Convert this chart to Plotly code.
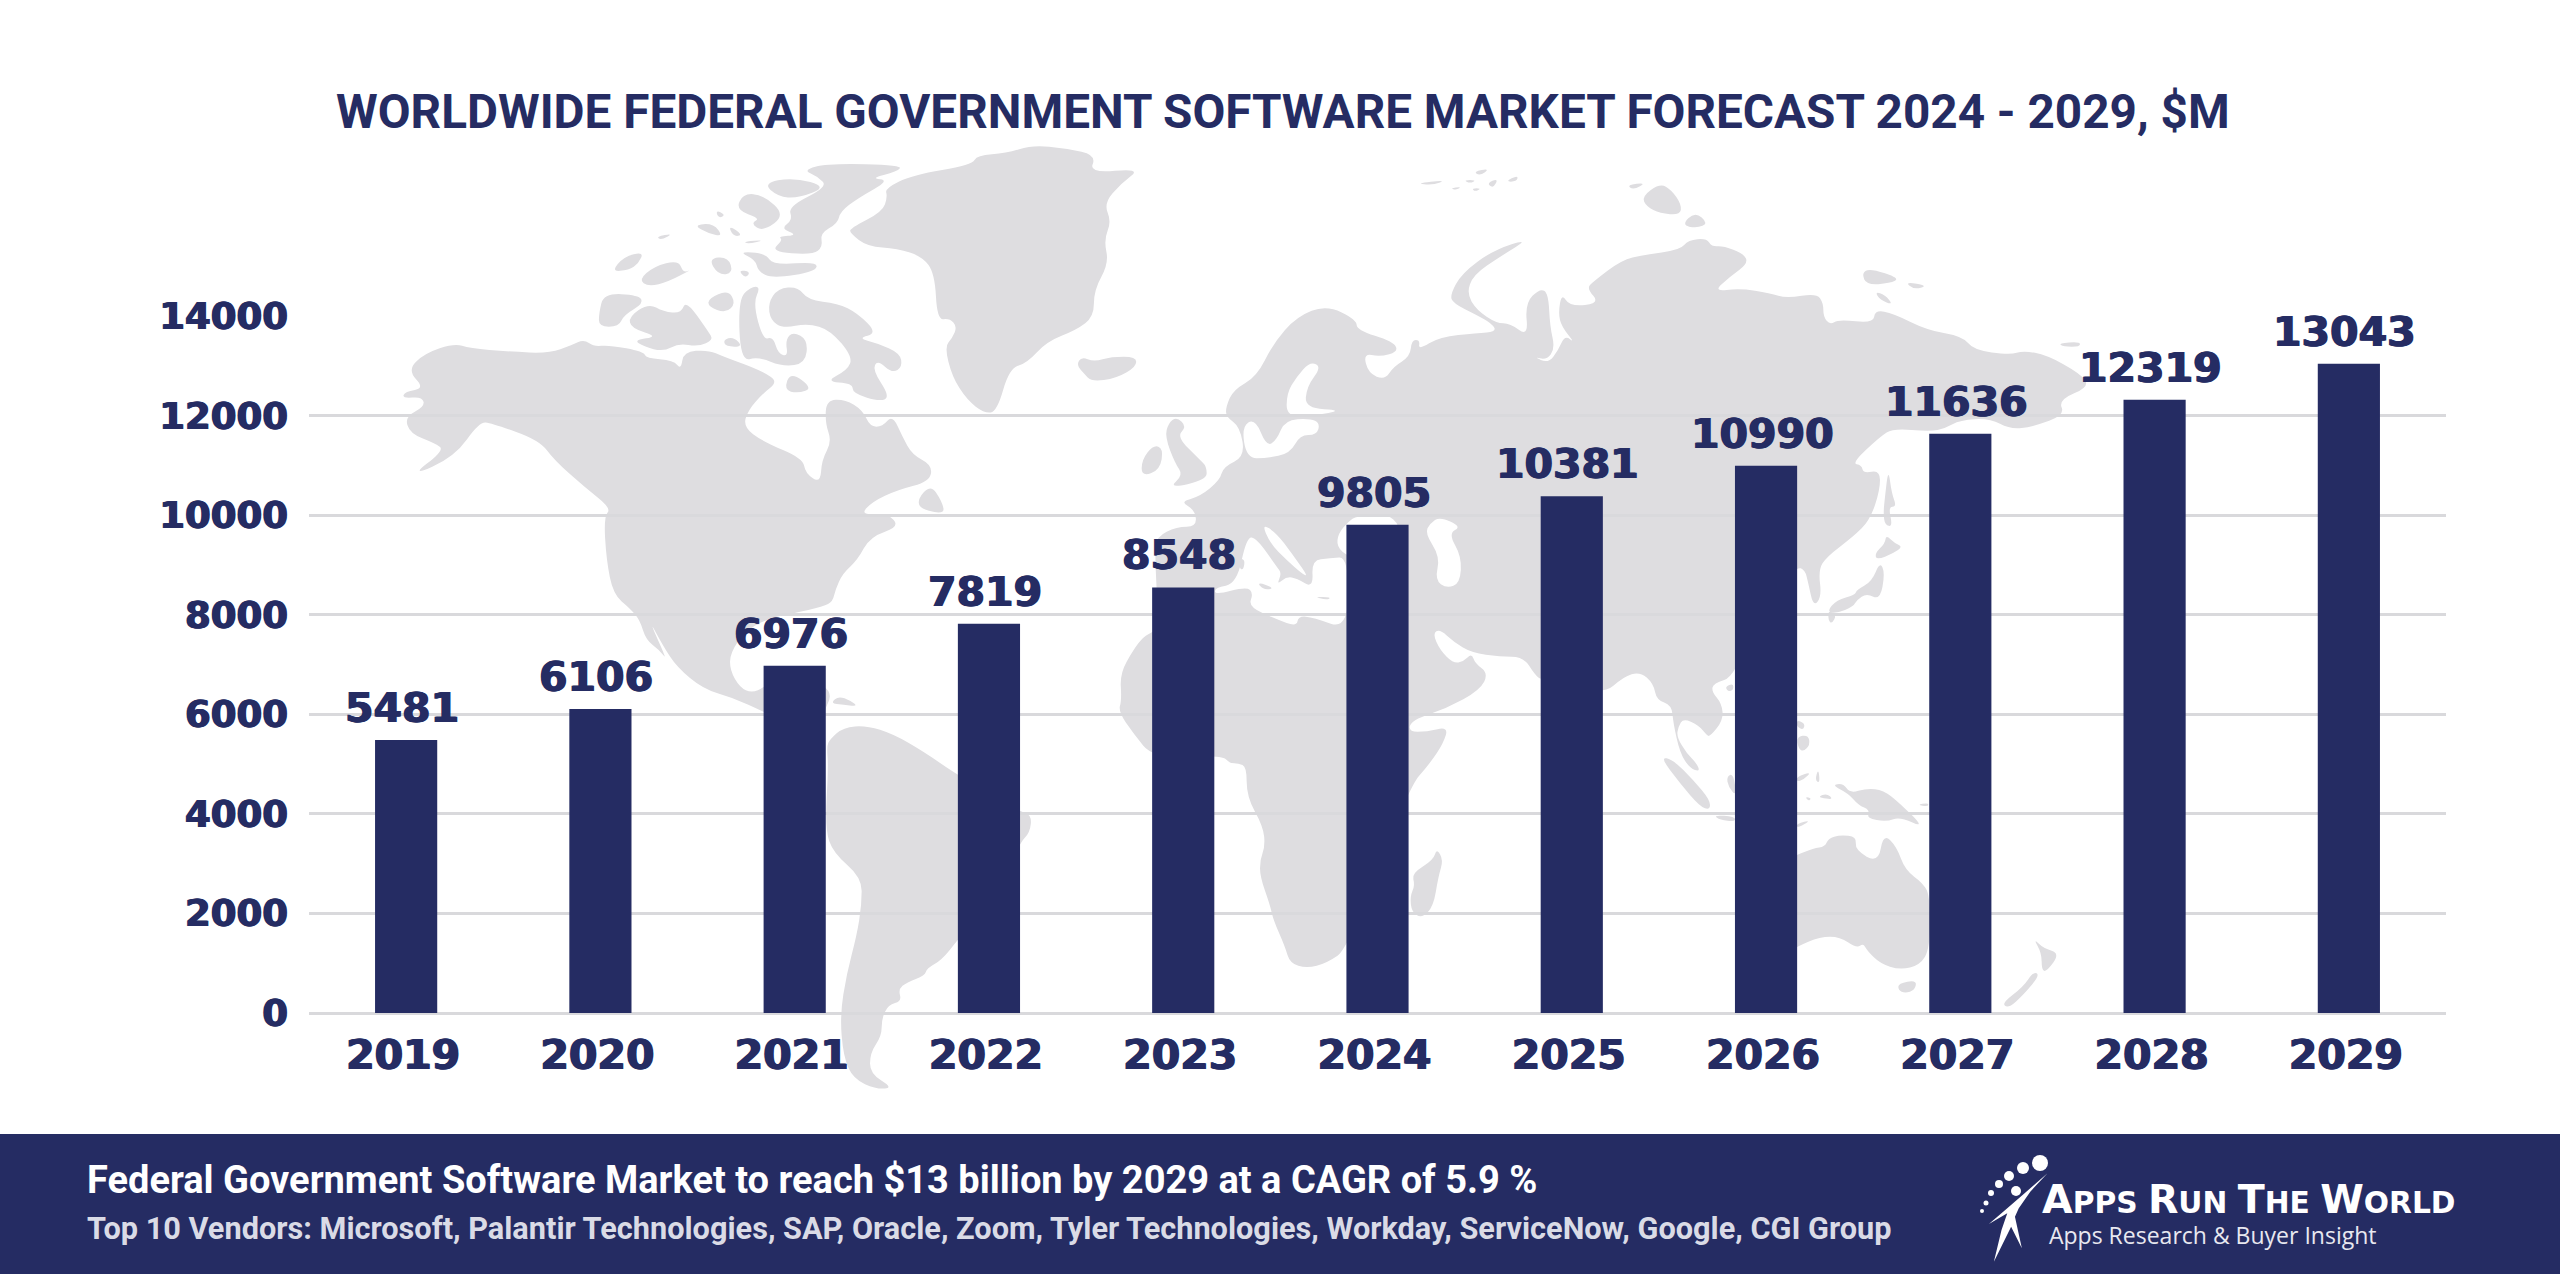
import plotly.graph_objects as go

# chart data
years = ['2019', '2020', '2021', '2022', '2023', '2024', '2025', '2026', '2027', '2028', '2029']
market_size = [5481, 6106, 6976, 7819, 8548, 9805, 10381, 10990, 11636, 12319, 13043]
y_ticks = [0, 2000, 4000, 6000, 8000, 10000, 12000, 14000]

title_text = 'WORLDWIDE FEDERAL GOVERNMENT SOFTWARE MARKET FORECAST 2024 - 2029, $M'
banner_line_1 = 'Federal Government Software Market to reach $13 billion by 2029 at a CAGR of 5.9 %'
banner_line_2 = ('Top 10 Vendors: Microsoft, Palantir Technologies, SAP, Oracle, Zoom, '
                 'Tyler Technologies, Workday, ServiceNow, Google, CGI Group')

NAVY = '#252C63'
LAND = '#DEDDE0'
GRID = '#D9D9DC'
HEAVY = f'0.8px 0 0 {NAVY}, -0.8px 0 0 {NAVY}'  # the original digits are a heavier cut than DejaVu Bold

WIDTH, HEIGHT = 2560, 1274
PLOT_L, PLOT_R, PLOT_T, PLOT_B = 309, 2446, 316, 1013


def crop(origin, pts):
    x0, y0, sx, sy = origin
    return [(x0 + x / sx, y0 + y / sy) for x, y in pts]


NA = (380, 140, 2.01, 3)
SA = (560, 560, 3, 2.9)
EU = (1100, 160, 3, 3)
AF = (1100, 620, 3, 3)
AS = (1560, 160, 3, 3)
OC = (1600, 620, 3, 3)
LOGO = (1900, 1120, 2.61, 3)

north_america = (
    crop(NA, [(55, 690), (90, 640), (150, 610), (180, 625), (260, 635), (340, 640), (385, 615), (410, 598),
              (430, 620), (460, 615), (530, 635), (535, 655), (590, 660), (605, 690), (610, 635), (660, 630),
              (690, 650), (720, 665), (770, 695), (800, 725), (770, 760), (740, 810), (730, 860), (770, 905),
              (850, 955), (855, 1000), (885, 1030), (888, 960), (908, 905), (895, 850), (897, 780), (935, 778),
              (970, 810), (985, 860), (1010, 860), (1030, 825), (1050, 890), (1070, 945), (1110, 975),
              (1105, 1025), (1040, 1050), (990, 1085), (965, 1125), (1020, 1120), (1045, 1160), (985, 1190),
              (960, 1260), (930, 1300), (915, 1350), (910, 1385)])
    + crop(SA, [(790, 135), (700, 155), (640, 165), (560, 200), (510, 270), (510, 320), (540, 370), (575, 385),
                (612, 370), (700, 300), (795, 365), (815, 395), (790, 440), (795, 530), (700, 480), (610, 440),
                (520, 400), (430, 375), (350, 310), (310, 250), (265, 170), (322, 292), (300, 262), (258, 232),
                (240, 175), (210, 140), (160, 100)])
    + crop(NA, [(455, 1260), (450, 1130), (465, 1105), (410, 1040), (350, 960), (320, 900), (225, 850), (200, 845),
                (150, 950), (60, 1010), (130, 930), (110, 910), (60, 880), (50, 830), (90, 800), (85, 770),
                (45, 775), (50, 755), (90, 745)])
)
south_america = crop(SA, [(810, 520), (850, 485), (920, 480), (1000, 505), (1090, 555), (1195, 625), (1380, 730),
                          (1415, 740), (1410, 790), (1380, 820), (1300, 980), (1195, 1100), (1145, 1160),
                          (1100, 1185), (1095, 1205), (1040, 1225), (1015, 1245), (1025, 1280), (985, 1290),
                          (965, 1330), (965, 1380), (930, 1430), (930, 1490), (1000, 1530), (950, 1535),
                          (880, 1505), (850, 1440), (840, 1320), (860, 1200), (890, 1090), (905, 1000), (905, 920),
                          (820, 850), (795, 780), (805, 600), (800, 540)])
greenland = crop(NA, [(945, 265), (1010, 215), (1020, 170), (1015, 145), (1070, 105), (1190, 75), (1200, 45),
                      (1260, 40), (1310, 15), (1380, 25), (1440, 45), (1425, 100), (1530, 85), (1490, 130),
                      (1455, 190), (1470, 245), (1455, 300), (1465, 370), (1435, 450), (1435, 530), (1400, 570),
                      (1340, 605), (1300, 670), (1265, 685), (1240, 815), (1215, 820), (1180, 780), (1150, 710),
                      (1135, 620), (1150, 595), (1160, 560), (1145, 535), (1120, 540), (1115, 400), (1090, 350),
                      (1040, 325), (980, 320), (945, 280)])
eurasia_africa = (
    crop(EU, [(240, 1025), (300, 1010), (360, 960), (370, 920), (435, 890), (420, 800), (378, 770), (378, 740),
              (400, 690), (470, 650), (520, 550), (590, 470), (680, 435), (770, 480), (770, 510), (880, 545),
              (895, 575), (840, 590), (790, 580), (805, 640), (855, 660), (880, 620), (930, 590), (935, 540),
              (960, 540), (955, 570), (1020, 530), (1130, 520), (1190, 515), (1175, 490), (1130, 465), (1060, 430),
              (1050, 405), (1085, 340), (1180, 270), (1290, 235), (1200, 290), (1120, 345), (1100, 400), (1130, 450),
              (1190, 490), (1230, 490), (1285, 530), (1275, 430), (1320, 385), (1345, 400), (1350, 500), (1365, 565),
              (1340, 600), (1300, 590), (1345, 610), (1375, 570), (1395, 525), (1425, 550), (1385, 500), (1375, 460),
              (1385, 400), (1410, 440), (1500, 430), (1460, 385), (1480, 365)])
    + crop(AS, [(185, 300), (250, 285), (360, 270), (385, 240), (440, 235), (455, 260), (490, 258), (550, 280),
                (565, 310), (510, 350), (460, 395), (540, 385), (630, 400), (680, 415), (770, 400), (790, 430),
                (790, 470), (810, 495), (835, 478), (940, 490), (945, 450), (1000, 460), (1100, 510), (1210, 530),
                (1240, 570), (1350, 585), (1390, 572), (1460, 585), (1560, 640), (1590, 680), (1495, 720),
                (1515, 765), (1420, 800), (1350, 808), (1290, 775), (1200, 780), (1155, 805), (1110, 815),
                (1000, 805), (960, 830), (875, 910), (905, 915), (910, 940), (960, 930), (960, 990), (930, 1080),
                (880, 1130), (800, 1190), (775, 1230), (785, 1310), (760, 1340), (745, 1270), (735, 1230),
                (710, 1220), (620, 1300)])
    + crop(OC, [(405, 170), (340, 190), (335, 215), (365, 250), (370, 300), (330, 350), (320, 345), (295, 315),
                (250, 295), (235, 320), (230, 350), (260, 400), (290, 430), (300, 455), (270, 445), (240, 400),
                (220, 310), (215, 255), (170, 240), (160, 190), (120, 155), (70, 170), (10, 225)])
    + crop(AF, [(1325, 180), (1305, 165), (1270, 110), (1200, 110), (1115, 98), (1060, 65), (1020, 28), (998, 40),
                (1020, 90), (1060, 130), (1090, 125), (1115, 100), (1125, 130), (1165, 160), (1140, 210),
                (1040, 265), (935, 300), (925, 335), (980, 335), (1045, 320), (1030, 370), (990, 430), (925, 505),
                (745, 985), (680, 1030), (620, 1045), (570, 1030), (555, 980), (520, 900), (510, 855), (480, 770),
                (480, 720), (495, 680), (490, 620), (440, 530), (440, 440), (415, 430), (390, 430), (365, 405),
                (160, 415), (100, 340), (55, 275), (65, 240), (60, 160), (100, 90), (130, 50), (160, 35)])
    + crop(EU, [(175, 1400), (170, 1290), (165, 1180), (170, 1130), (230, 1100), (290, 1100), (285, 1050)])
)
australia = crop(OC, [(560, 720), (590, 705), (640, 685), (675, 680), (685, 655), (720, 645), (770, 650), (765, 690),
                      (835, 730), (850, 640), (890, 680), (915, 750), (970, 790), (990, 830), (990, 985), (960, 1035),
                      (900, 1050), (840, 1030), (800, 990), (790, 970), (770, 985), (720, 950), (660, 950),
                      (590, 980), (560, 1000)])

islands = [
    # Canadian arctic
    crop(NA, [(780, 490), (800, 445), (840, 440), (860, 480), (920, 490), (960, 520), (1000, 580), (960, 595),
              (1000, 610), (1045, 640), (1050, 680), (1030, 700), (1000, 660), (990, 690), (1025, 770), (1005, 785),
              (950, 760), (950, 730), (895, 725), (940, 690), (950, 650), (905, 570), (860, 550), (810, 565),
              (785, 540)]),
    crop(NA, [(715, 210), (730, 160), (770, 165), (815, 225), (770, 275), (745, 250), (765, 235)]),
    crop(NA, [(770, 130), (830, 112), (900, 140), (840, 175), (800, 170)]),
    crop(NA, [(850, 90), (900, 70), (1050, 75), (1040, 95), (985, 115), (1025, 120), (960, 175), (925, 215),
              (920, 250), (885, 280), (890, 320), (870, 345), (785, 335), (810, 300), (800, 290), (840, 285),
              (805, 265), (830, 240), (820, 200), (900, 140), (880, 110)]),
    crop(NA, [(720, 335), (775, 340), (790, 375), (880, 365), (875, 395), (790, 415), (760, 395), (755, 360)]),
    crop(NA, [(630, 255), (670, 250), (690, 290), (660, 280)]),
    crop(NA, [(675, 210), (695, 225), (680, 235)]),
    crop(NA, [(700, 255), (730, 285), (710, 290)]),
    crop(NA, [(730, 305), (775, 300), (740, 312)]),
    crop(NA, [(465, 395), (490, 350), (530, 335), (520, 370), (500, 390)]),
    crop(NA, [(520, 420), (550, 380), (600, 360), (610, 400), (630, 385), (580, 425), (540, 440)]),
    crop(NA, [(660, 355), (700, 350), (710, 400), (680, 405)]),
    crop(NA, [(720, 390), (745, 395), (735, 415)]),
    crop(NA, [(555, 290), (590, 280), (565, 300)]),
    crop(NA, [(450, 460), (520, 465), (530, 490), (490, 525), (480, 560), (440, 560), (440, 520)]),
    crop(NA, [(500, 530), (540, 490), (570, 515), (605, 520), (615, 480), (660, 575), (670, 600), (640, 620),
              (600, 610), (570, 635), (530, 620), (510, 600), (560, 590), (505, 565)]),
    crop(NA, [(720, 480), (745, 440), (765, 440), (750, 490), (770, 600), (790, 590), (800, 640), (820, 650),
              (815, 600), (830, 575), (860, 600), (855, 670), (810, 680), (760, 650), (725, 665)]),
    crop(NA, [(660, 475), (700, 450), (715, 490), (695, 520), (660, 500)]),
    crop(NA, [(825, 695), (870, 745), (840, 760), (812, 750)]),
    crop(NA, [(690, 600), (710, 590), (730, 620), (695, 620)]),
    # Newfoundland, Iceland, Caribbean
    crop(NA, [(1105, 1030), (1072, 1100), (1135, 1125), (1130, 1085)]),
    crop(NA, [(1400, 675), (1410, 650), (1435, 665), (1470, 650), (1520, 650), (1520, 680), (1480, 715), (1430, 725),
              (1415, 700)]),
    crop(SA, [(810, 415), (840, 392), (900, 425), (850, 420)]),
    # Britain, Ireland
    crop(EU, [(205, 790), (230, 770), (260, 800), (230, 830), (300, 900), (320, 920), (320, 960), (205, 985),
              (250, 945), (225, 910), (195, 830)]),
    crop(EU, [(125, 900), (160, 855), (190, 865), (180, 930), (125, 950)]),
    # Svalbard and Franz Josef
    crop(EU, [(945, 70), (1040, 60), (1000, 75)]),
    crop(EU, [(1050, 85), (1085, 80), (1070, 90)]),
    crop(EU, [(1120, 35), (1170, 25), (1140, 48)]),
    crop(EU, [(1090, 60), (1130, 60), (1110, 70)]),
    crop(EU, [(1160, 70), (1195, 55), (1180, 85)]),
    crop(EU, [(1215, 65), (1255, 45), (1250, 65)]),
    crop(EU, [(1115, 85), (1145, 85), (1125, 95)]),
    # Siberian islands
    crop(AS, [(245, 110), (300, 70), (335, 90), (365, 135), (360, 165), (300, 160), (260, 140)]),
    crop(AS, [(200, 75), (260, 68), (220, 90)]),
    crop(AS, [(365, 195), (405, 155), (445, 190), (410, 205)]),
    crop(AS, [(905, 340), (930, 325), (1020, 355), (990, 370), (920, 375)]),
    crop(AS, [(1035, 365), (1105, 378), (1060, 388)]),
    crop(AS, [(945, 395), (975, 405), (1000, 435), (960, 420)]),
    crop(AS, [(1495, 550), (1560, 545), (1560, 560), (1510, 560)]),
    # Japan, Sakhalin
    crop(AS, [(985, 925), (995, 1000), (1010, 1040), (985, 1040), (998, 1100), (975, 1095), (970, 1060), (975, 1010)]),
    crop(AS, [(978, 1125), (1005, 1150), (1028, 1160), (1000, 1180), (950, 1200), (945, 1180), (975, 1150)]),
    crop(AS, [(960, 1205), (975, 1240), (960, 1320), (920, 1300), (890, 1320), (880, 1340), (830, 1360), (800, 1355),
              (830, 1320), (885, 1305), (890, 1290), (935, 1265)]),
    crop(AS, [(805, 1350), (830, 1365), (815, 1392), (805, 1380)]),
    # South east Asia and Oceania
    crop(OC, [(375, 200), (400, 190), (400, 210), (385, 215)]),
    crop(OC, [(180, 410), (220, 420), (280, 480), (330, 540), (330, 570), (300, 560), (240, 490)]),
    crop(OC, [(340, 585), (405, 590), (405, 605), (360, 600)]),
    crop(OC, [(380, 470), (400, 460), (410, 530), (385, 500)]),
    crop(OC, [(590, 300), (615, 310), (610, 330), (590, 320)]),
    crop(OC, [(590, 350), (625, 345), (630, 375), (610, 395), (595, 385)]),
    crop(OC, [(590, 470), (635, 455), (610, 480), (590, 485)]),
    crop(OC, [(655, 445), (660, 490), (645, 480)]),
    crop(OC, [(615, 530), (635, 535), (625, 543)]),
    crop(OC, [(655, 530), (680, 520), (700, 538), (670, 535)]),
    crop(OC, [(590, 625), (635, 600), (590, 610)]),
    crop(OC, [(695, 495), (730, 490), (750, 520), (800, 505), (850, 510), (900, 550), (975, 625), (900, 590),
              (860, 605), (800, 595), (810, 570), (775, 555), (745, 520)]),
    crop(OC, [(950, 555), (985, 548), (985, 560)]),
    crop(OC, [(895, 1090), (950, 1080), (945, 1110), (915, 1120), (895, 1110)]),
    crop(OC, [(1300, 955), (1330, 985), (1380, 1000), (1340, 1055), (1325, 1050), (1325, 1000)]),
    crop(OC, [(1300, 1055), (1320, 1065), (1270, 1125), (1225, 1165), (1205, 1150), (1270, 1100)]),
    crop(AF, [(1010, 685), (1030, 720), (1015, 770), (1000, 860), (965, 895), (935, 875), (930, 830), (945, 795),
              (935, 760), (1000, 720)]),
]

# seas cut out of the land, painted white under the gridlines
seas = [
    crop(EU, [(425, 800), (465, 775), (500, 860), (530, 840), (555, 780), (630, 775), (660, 790), (650, 825),
              (600, 825), (570, 880), (500, 895), (440, 895)]),
    crop(EU, [(630, 605), (665, 620), (620, 680), (615, 745), (730, 750), (640, 768), (560, 770), (560, 700),
              (590, 650)]),
    crop(EU, [(345, 1282), (410, 1272), (440, 1130), (470, 1135), (530, 1220), (545, 1240), (530, 1275), (560, 1250),
              (590, 1255), (640, 1285), (635, 1200), (690, 1195), (745, 1190), (745, 1410), (640, 1372), (595, 1368),
              (590, 1400), (530, 1378), (445, 1340), (460, 1300), (440, 1280), (345, 1305)]),
    crop(EU, [(485, 1090), (530, 1120), (575, 1180), (625, 1250), (605, 1240), (560, 1200), (510, 1150)]),
    crop(EU, [(745, 1085), (770, 1068), (860, 1062), (900, 1095), (900, 1170), (800, 1200), (745, 1190), (710, 1160),
              (715, 1120)]),
    crop(EU, [(990, 1090), (1020, 1070), (1085, 1100), (1045, 1120), (1085, 1190), (1080, 1270), (1040, 1285),
              (1005, 1260), (1020, 1190), (975, 1120)]),
    crop(NA, [(905, 640), (925, 650), (915, 665)]),
]
sea_islands = [
    crop(EU, [(470, 1265), (525, 1285), (490, 1290)]),
    crop(EU, [(420, 1195), (435, 1200), (430, 1230), (418, 1225)]),
    crop(EU, [(640, 1310), (695, 1312), (680, 1320)]),
]

logo_man = crop(LOGO, [(385, 160), (340, 215), (310, 265), (300, 290), (318, 385), (290, 320), (245, 425), (265, 330),
                       (280, 280), (232, 312), (280, 265), (320, 225)])
logo_dots = [(2040, 1163, 8), (2023, 1168, 6), (2009, 1176, 5), (1999, 1184, 4), (1991, 1193, 3),
             (1986, 1203, 2.5), (1982, 1211, 2), (2016, 1191, 5)]


def px(x):
    return (x - PLOT_L) / (PLOT_R - PLOT_L)


def py(y):
    return (PLOT_B - y) / (PLOT_B - PLOT_T)


def smooth_path(points):
    # closed path that rounds the traced corners a little
    pts = [(px(x), py(y)) for x, y in points]
    n = len(pts)
    mids = [((pts[i][0] + pts[(i + 1) % n][0]) / 2, (pts[i][1] + pts[(i + 1) % n][1]) / 2) for i in range(n)]
    path = f'M {mids[-1][0]:.5f},{mids[-1][1]:.5f}'
    for i in range(n):
        path += f' Q {pts[i][0]:.5f},{pts[i][1]:.5f} {mids[i][0]:.5f},{mids[i][1]:.5f}'
    return path + ' Z'


def straight_path(points):
    pts = [(px(x), py(y)) for x, y in points]
    return 'M ' + ' L '.join(f'{x:.5f},{y:.5f}' for x, y in pts) + ' Z'


def map_shape(points, color=LAND):
    return dict(type='path', path=smooth_path(points), xref='paper', yref='paper',
                fillcolor=color, line=dict(width=0), layer='below')


shapes = []
for outline in [north_america, south_america, greenland, eurasia_africa, australia] + islands:
    shapes.append(map_shape(outline))
for sea in seas:
    shapes.append(map_shape(sea, 'white'))
for isle in sea_islands:
    shapes.append(map_shape(isle))

# footer band and logo
shapes.append(dict(type='rect', xref='paper', yref='paper', x0=px(0), x1=px(WIDTH), y0=py(HEIGHT), y1=py(1134),
                   fillcolor=NAVY, line=dict(width=0), layer='above'))
shapes.append(dict(type='path', path=straight_path(logo_man), xref='paper', yref='paper',
                   fillcolor='white', line=dict(width=0), layer='above'))
for cx, cy, r in logo_dots:
    shapes.append(dict(type='circle', xref='paper', yref='paper', x0=px(cx - r), x1=px(cx + r),
                       y0=py(cy + r), y1=py(cy - r), fillcolor='white', line=dict(width=0), layer='above'))


def page_text(x, y, text, size, color, family, xanchor='left', shadow=None):
    return dict(x=px(x), y=py(y), xref='paper', yref='paper', text=text, showarrow=False,
                xanchor=xanchor, yanchor='middle', align='left',
                font=dict(size=size, color=color, family=family, shadow=shadow))


annotations = [
    page_text(1283, 112, f'<b>{title_text}</b>', 47.7, NAVY, 'Roboto', 'center'),
    page_text(85, 1180, f'<b>{banner_line_1}</b>', 38, 'white', 'Roboto'),
    page_text(85, 1228, f'<b>{banner_line_2}</b>', 30.7, '#DADBE6', 'Roboto'),
    page_text(2040, 1199,
              '<b><span style="font-size:39.6px">A</span>PPS <span style="font-size:39.6px">R</span>UN '
              '<span style="font-size:39.6px">T</span>HE <span style="font-size:39.6px">W</span>ORLD</b>',
              29.7, 'white', 'DejaVu Sans'),
    page_text(2047, 1235, 'Apps Research &amp; Buyer Insight', 23, '#E8E8F0', 'Open Sans'),
]

# value labels sit above the bars; a category axis wants the index here, a numeric looking name is taken as a position
for i, value in enumerate(market_size):
    annotations.append(dict(x=i, y=value, xref='x', yref='y', text=f'<b>{value}</b>', showarrow=False,
                            xanchor='center', yanchor='bottom', yshift=6, xshift=-4,
                            font=dict(size=41, color=NAVY, family='DejaVu Sans', shadow=HEAVY)))

fig = go.Figure()
fig.add_trace(go.Bar(x=years, y=market_size, marker=dict(color=NAVY, line=dict(width=0)), hoverinfo='x+y'))

fig.update_layout(
    width=WIDTH,
    height=HEIGHT,
    autosize=False,
    margin=dict(l=PLOT_L, r=WIDTH - PLOT_R, t=PLOT_T, b=HEIGHT - PLOT_B, pad=0),
    paper_bgcolor='white',
    plot_bgcolor='rgba(0,0,0,0)',
    bargap=0.68,
    showlegend=False,
    shapes=shapes,
    annotations=annotations,
    xaxis=dict(
        type='category',
        range=[-0.5, 10.5],
        tickfont=dict(size=41, color=NAVY, family='DejaVu Sans', weight='bold', shadow=HEAVY),
        showgrid=False,
        showline=False,
        ticks='',
        ticklabelstandoff=14,
        ticklabelshift=-3,
        automargin=False,
    ),
    yaxis=dict(
        range=[0, 14000],
        tickmode='array',
        tickvals=y_ticks,
        tickformat='d',
        tickfont=dict(size=37, color=NAVY, family='DejaVu Sans', weight='bold', shadow=HEAVY),
        gridcolor=GRID,
        gridwidth=2.5,
        zeroline=True,
        zerolinecolor=GRID,
        zerolinewidth=2.5,
        showline=False,
        ticks='',
        ticklabelstandoff=20,
        automargin=False,
    ),
)

fig.write_html('out.html', config=dict(displayModeBar=False), post_script="document.body.style.margin='0';")
